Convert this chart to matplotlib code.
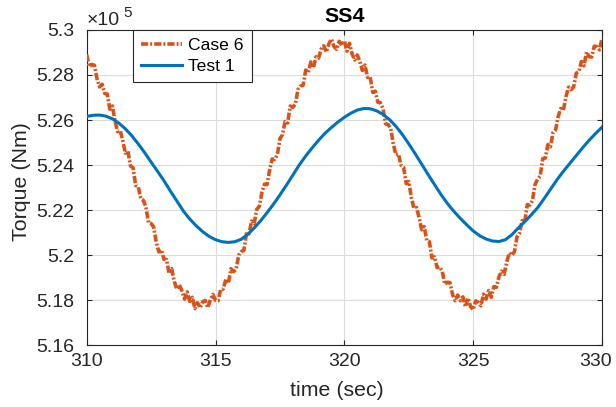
import matplotlib

matplotlib.use("Agg")
import matplotlib.pyplot as plt
import matplotlib.transforms as mtransforms
import numpy as np
from matplotlib.ticker import FormatStrFormatter, MultipleLocator

# torque values in units of 1e5 Nm
CASE6_TORQUE = [
    5.2891, 5.2837, 5.2847, 5.2843, 5.2784, 5.2747, 5.2759, 5.2718, 5.2715, 5.2648,
    5.2662, 5.2595, 5.2549, 5.2553, 5.2509, 5.2453, 5.2463, 5.2396, 5.2388, 5.2309,
    5.2305, 5.2250, 5.2243, 5.2213, 5.2143, 5.2140, 5.2125, 5.2057, 5.2014, 5.2023,
    5.1981, 5.1980, 5.1918, 5.1939, 5.1882, 5.1848, 5.1867, 5.1840, 5.1804, 5.1836,
    5.1794, 5.1812, 5.1762, 5.1788, 5.1765, 5.1792, 5.1798, 5.1766, 5.1801, 5.1825,
    5.1798, 5.1797, 5.1848, 5.1849, 5.1892, 5.1874, 5.1939, 5.1926, 5.1936, 5.1999,
    5.2015, 5.2021, 5.2095, 5.2094, 5.2151, 5.2139, 5.2203, 5.2216, 5.2277, 5.2315,
    5.2313, 5.2377, 5.2427, 5.2425, 5.2446, 5.2517, 5.2535, 5.2593, 5.2587, 5.2662,
    5.2656, 5.2671, 5.2736, 5.2751, 5.2754, 5.2822, 5.2812, 5.2858, 5.2833, 5.2881,
    5.2875, 5.2915, 5.2930, 5.2902, 5.2939, 5.2960, 5.2926, 5.2914, 5.2950, 5.2932,
    5.2952, 5.2906, 5.2941, 5.2894, 5.2867, 5.2889, 5.2861, 5.2820, 5.2844, 5.2790,
    5.2792, 5.2723, 5.2728, 5.2679, 5.2677, 5.2651, 5.2583, 5.2580, 5.2563, 5.2493,
    5.2446, 5.2449, 5.2399, 5.2390, 5.2317, 5.2326, 5.2256, 5.2208, 5.2211, 5.2167,
    5.2113, 5.2126, 5.2063, 5.2059, 5.1987, 5.1991, 5.1944, 5.1947, 5.1928, 5.1870,
    5.1879, 5.1877, 5.1824, 5.1797, 5.1822, 5.1797, 5.1814, 5.1770, 5.1809, 5.1771,
    5.1757, 5.1796, 5.1790, 5.1774, 5.1826, 5.1804, 5.1842, 5.1812, 5.1859, 5.1856,
    5.1903, 5.1928, 5.1914, 5.1967, 5.2009, 5.1999, 5.2014, 5.2081, 5.2097, 5.2153,
    5.2147, 5.2224, 5.2222, 5.2242, 5.2313, 5.2337, 5.2350, 5.2428, 5.2431, 5.2491,
    5.2481, 5.2545, 5.2557, 5.2616, 5.2651, 5.2644, 5.2702, 5.2746, 5.2735, 5.2747,
    5.2808, 5.2815, 5.2860, 5.2841, 5.2902, 5.2881, 5.2880, 5.2928, 5.2926, 5.2912,
    5.2961,
]

TEST1_TORQUE = [
    5.2616, 5.2621, 5.2622, 5.2617, 5.2605, 5.2586, 5.2561, 5.2530, 5.2494, 5.2455,
    5.2413, 5.2372, 5.2330, 5.2284, 5.2240, 5.2196, 5.2160, 5.2130, 5.2104, 5.2083,
    5.2068, 5.2059, 5.2056, 5.2059, 5.2070, 5.2092, 5.2120, 5.2152, 5.2188, 5.2226,
    5.2267, 5.2310, 5.2355, 5.2400, 5.2440, 5.2476, 5.2510, 5.2541, 5.2567, 5.2591,
    5.2612, 5.2630, 5.2644, 5.2651, 5.2650, 5.2641, 5.2625, 5.2602, 5.2572, 5.2536,
    5.2494, 5.2450, 5.2404, 5.2358, 5.2313, 5.2269, 5.2229, 5.2194, 5.2163, 5.2134,
    5.2107, 5.2086, 5.2071, 5.2062, 5.2060, 5.2068, 5.2090, 5.2120, 5.2148, 5.2178,
    5.2210, 5.2250, 5.2292, 5.2334, 5.2372, 5.2407, 5.2442, 5.2477, 5.2510, 5.2540,
    5.2568,
]

T_START, T_END = 310, 330
SERIES_LABELS = ["Case 6", "Test 1"]

ORANGE = "#D95319"
BLUE = "#0072BD"
AXIS_GREY = "#262626"


def plot_ss4(output_path="out.png"):
    plt.rcParams["font.family"] = ["Liberation Sans", "DejaVu Sans"]
    plt.rcParams["font.size"] = 14

    t_case6 = np.linspace(T_START, T_END, len(CASE6_TORQUE))
    t_test1 = np.linspace(T_START, T_END, len(TEST1_TORQUE))

    figure = plt.figure(figsize=(6.16, 4.07), dpi=100)
    axis = figure.add_axes([0.1407, 0.1523, 0.8366, 0.774])

    axis.plot(t_case6, CASE6_TORQUE, color=ORANGE, lw=2.6, ls="-.",
              dashes=(2.0, 0.55, 0.55, 0.55), label=SERIES_LABELS[0], zorder=3)
    axis.plot(t_test1, TEST1_TORQUE, color=BLUE, lw=2.2, label=SERIES_LABELS[1], zorder=4)

    axis.set_xlim(T_START, T_END)
    axis.set_ylim(5.16, 5.30)
    axis.xaxis.set_major_locator(MultipleLocator(5))
    axis.yaxis.set_major_locator(MultipleLocator(0.02))
    axis.yaxis.set_major_formatter(FormatStrFormatter("%g"))
    axis.tick_params(direction="in", length=3.6, width=0.8, color=AXIS_GREY,
                     labelcolor=AXIS_GREY, top=True, right=True)
    axis.tick_params(axis="x", pad=6)
    axis.tick_params(axis="y", pad=9)
    for spine in axis.spines.values():
        spine.set_color(AXIS_GREY)
        spine.set_linewidth(0.8)
    axis.grid(True, color="#dcdcdc", lw=0.8)
    axis.set_axisbelow(True)

    axis.set_title("SS4", fontsize=15.4, fontweight="bold", pad=6)
    axis.set_xlabel("time (sec)", fontsize=15.4, color=AXIS_GREY)
    axis.set_ylabel("Torque (Nm)", fontsize=15.4, color=AXIS_GREY)
    axis.xaxis.set_label_coords(0.485, -0.115)
    axis.yaxis.set_label_coords(-0.108, 0.52)

    # exponent marker in the MATLAB style
    axis.annotate("\u00d710", xy=(0, 1), xycoords="axes fraction", xytext=(0, 3.6),
                  textcoords="offset points", ha="left", va="baseline",
                  fontsize=14, color=AXIS_GREY)
    axis.annotate("5", xy=(0, 1), xycoords="axes fraction", xytext=(26.5, 9.5),
                  textcoords="offset points", ha="left", va="baseline",
                  fontsize=11, color=AXIS_GREY)

    legend = axis.legend(loc="upper left", bbox_to_anchor=(0.09, 1.0), borderaxespad=0,
                         fontsize=12.6, handlelength=2.36, handletextpad=0.35,
                         borderpad=0.45, labelspacing=0.35, fancybox=False,
                         framealpha=1, edgecolor=AXIS_GREY)
    legend.get_frame().set_linewidth(0.8)

    # the 330 label sits a little left of its tick so it stays inside the figure
    figure.canvas.draw()
    nudge = mtransforms.ScaledTranslation(-5 / 72, 0, figure.dpi_scale_trans)
    for tick in axis.xaxis.get_major_ticks():
        if np.isclose(tick.get_loc(), T_END):
            tick.label1.set_transform(tick.label1.get_transform() + nudge)

    figure.savefig(output_path, dpi=100)
    plt.close(figure)


if __name__ == "__main__":
    plot_ss4()
